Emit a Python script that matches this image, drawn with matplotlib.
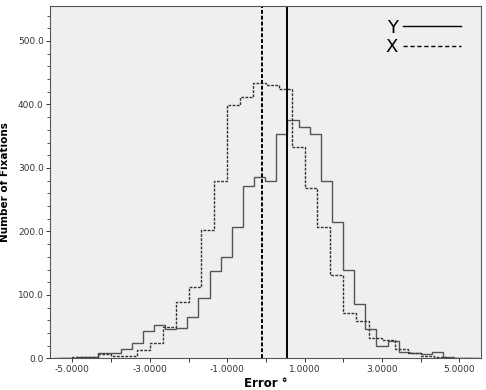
import numpy as np
import matplotlib.pyplot as plt
from matplotlib.lines import Line2D

# Y errors (solid) - histogram counts, bin width ~0.2876
y_start = -5.483
y_width = 0.2876
y_counts = [0.5, 1, 3, 3, 8, 8, 15, 24, 44, 52, 46, 48, 65, 96, 137, 160,
            207, 271, 286, 280, 353, 376, 365, 353, 280, 215, 139, 86, 46,
            20, 27, 10, 8, 6.5, 10, 2, 1, 1]

# X errors (dashed) - histogram counts, bin width 1/3
x_start = -5.3333
x_width = 1 / 3
x_counts = [0.5, 2, 3, 7, 4, 4, 14, 25, 49, 88.5, 112, 202, 280, 399, 412,
            434, 431, 424, 333.5, 268, 207, 132, 72, 59.5, 33, 29.5, 14.5,
            8.5, 4, 2, 1.5, 1, 1]

# means
y_mean = 0.54
x_mean = -0.11

xtick_vals = [-5, -4, -3, -2, -1, 0, 1, 2, 3, 4, 5]
ytick_vals = [0, 100, 200, 300, 400, 500]

fig = plt.figure(figsize=(4.86, 3.9), dpi=100)
ax = fig.add_axes([0.1029, 0.0808, 0.8868, 0.9038])
ax.set_facecolor('#efefef')

y_edges = y_start + y_width * np.arange(len(y_counts) + 1)
x_edges = x_start + x_width * np.arange(len(x_counts) + 1)

ax.stairs(y_counts, y_edges, color='#555555', linewidth=1.0)
ax.stairs(x_counts, x_edges, color='#333333', linewidth=1.0,
          linestyle=(0, (2, 1)))

ax.axvline(x_mean, color='black', linewidth=1.4, linestyle=(0, (2, 1)))
ax.axvline(y_mean, color='black', linewidth=1.4)

ax.set_xlim(-5.58, 5.56)
ax.set_ylim(0, 555)

ax.set_xticks(xtick_vals)
ax.set_xticklabels([f'{v:.4f}' if v % 2 else '' for v in xtick_vals])
ax.set_yticks(ytick_vals)
ax.set_yticklabels([f'{v:.1f}' for v in ytick_vals])
ax.set_yticks(np.arange(0, 556, 20), minor=True)
ax.tick_params(axis='both', labelsize=6.5, colors='#333333', length=3,
               width=0.7, pad=1.5)
ax.tick_params(axis='y', which='minor', length=2, width=0.6, colors='#333333')

for s in ax.spines.values():
    s.set_color('#555555')
    s.set_linewidth(0.8)

ax.set_xlabel('Error °', fontsize=8.5, fontweight='bold')
ax.xaxis.set_label_coords(0.5, -0.052)
ax.set_ylabel('Number of Fixations', fontsize=7.5, fontweight='bold')
ax.yaxis.set_label_coords(-0.092, 0.5)

handles = [Line2D([], [], color='black', linewidth=1.0),
           Line2D([], [], color='black', linewidth=1.0, linestyle=(0, (3, 2)))]
ax.legend(handles, ['Y', 'X'], loc='upper right', frameon=False,
          markerfirst=False, fontsize=13, handlelength=3.2, handletextpad=0.3,
          labelspacing=0.1, bbox_to_anchor=(0.97, 0.985), borderaxespad=0)

fig.savefig('out.png', dpi=100)
